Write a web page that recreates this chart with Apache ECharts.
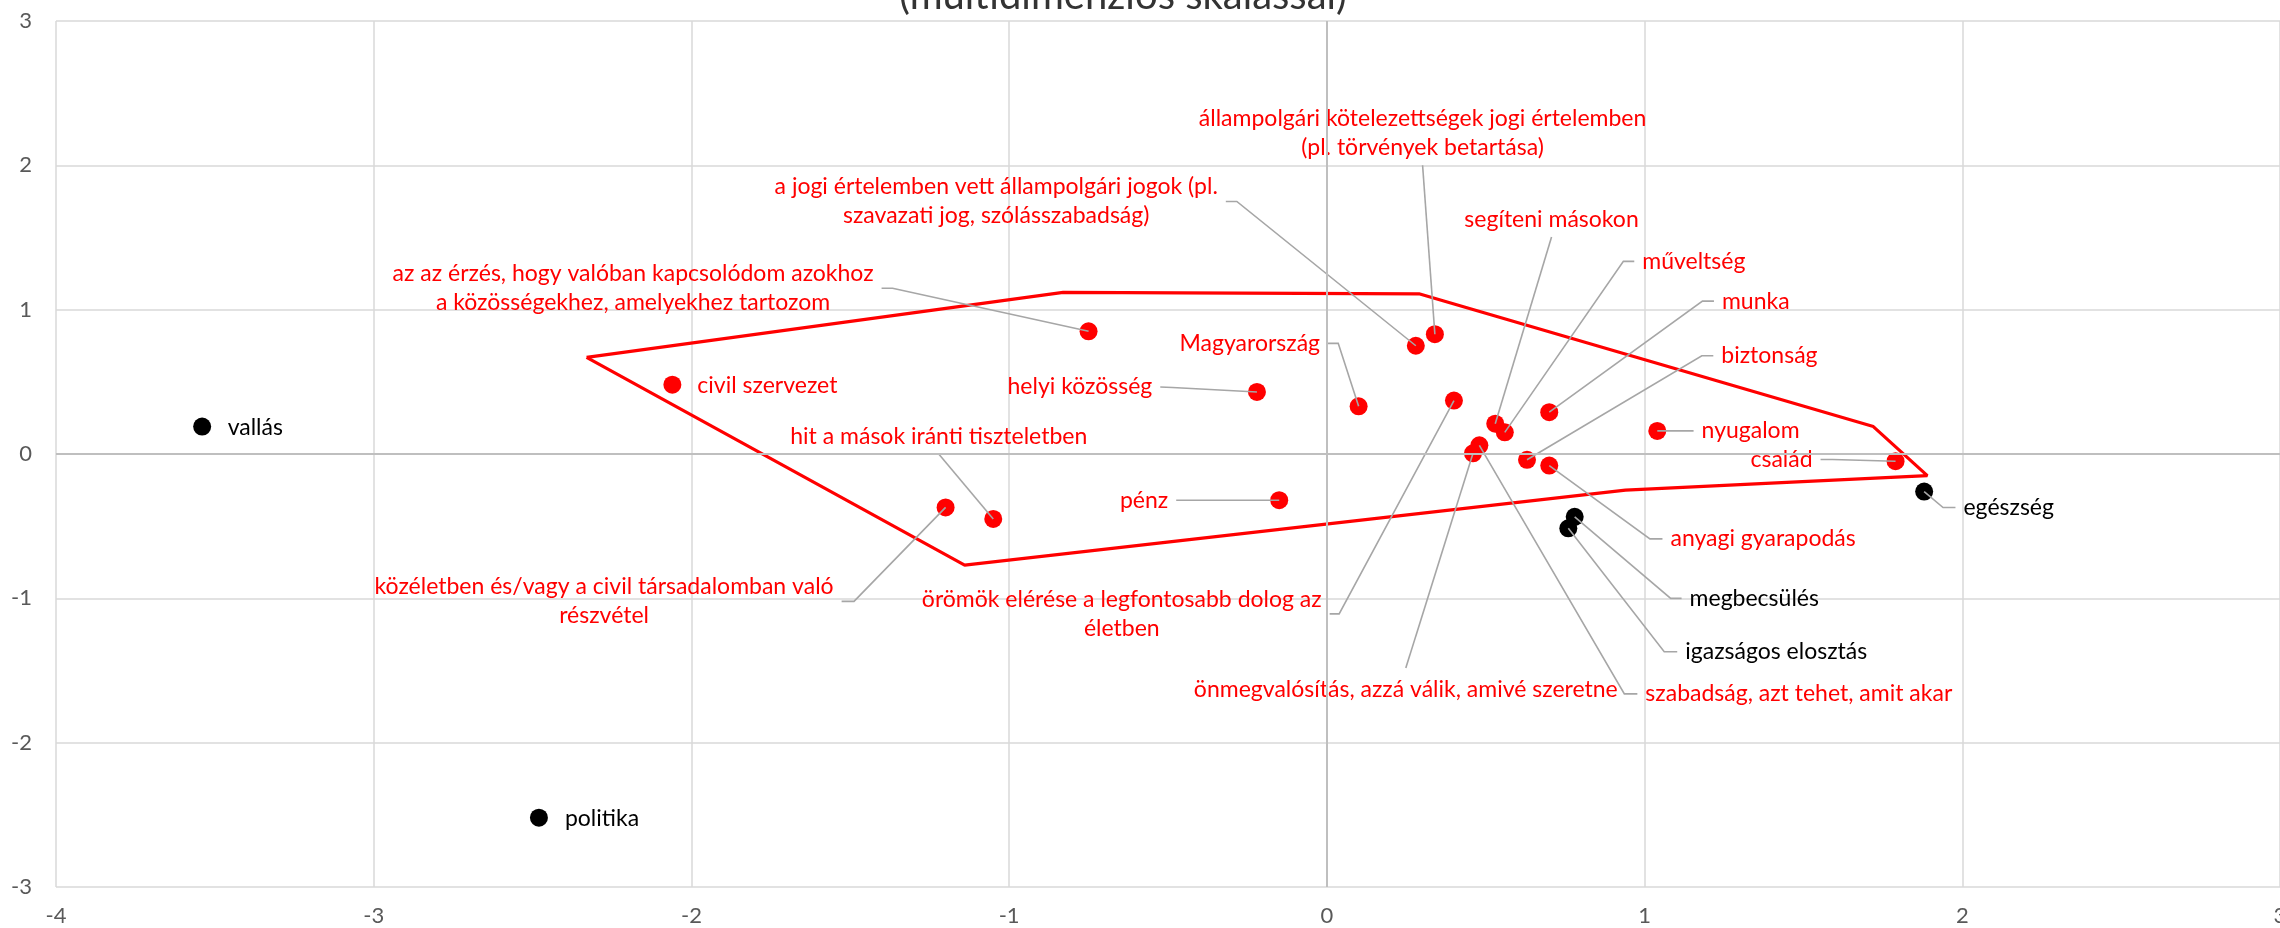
<!DOCTYPE html>
<html><head><meta charset="utf-8">
<script src="https://cdn.jsdelivr.net/npm/echarts@6/dist/echarts.min.js"></script>
<style>html,body{margin:0;padding:0;background:#fff}#c{width:2280px;height:928px}</style>
</head><body><div id="c"></div>
<script>
// ---------- data ----------
const titleText = '(multidimenziós skálással)';

const redNames = [
  'civil szervezet',
  'az az érzés, hogy valóban kapcsolódom azokhoz\na közösségekhez, amelyekhez tartozom',
  'hit a mások iránti tiszteletben',
  'közéletben és/vagy a civil társadalomban való\nrészvétel',
  'pénz',
  'helyi közösség',
  'Magyarország',
  'a jogi értelemben vett állampolgári jogok (pl.\nszavazati jog, szólásszabadság)',
  'állampolgári kötelezettségek jogi értelemben\n(pl. törvények betartása)',
  'örömök elérése a legfontosabb dolog az\néletben',
  'segíteni másokon',
  'műveltség',
  'munka',
  'szabadság, azt tehet, amit akar',
  'önmegvalósítás, azzá válik, amivé szeretne',
  'biztonság',
  'anyagi gyarapodás',
  'nyugalom',
  'család'
];
const redX = [-2.06, -0.75, -1.05, -1.20, -0.15, -0.22, 0.10, 0.28, 0.34, 0.40, 0.53, 0.56, 0.70, 0.48, 0.46, 0.63, 0.70, 1.04, 1.79];
const redY = [0.48, 0.85, -0.45, -0.37, -0.32, 0.43, 0.33, 0.75, 0.83, 0.37, 0.21, 0.15, 0.29, 0.06, 0.005, -0.04, -0.08, 0.16, -0.05];

const blackNames = ['vallás', 'politika', 'egészség', 'megbecsülés', 'igazságos elosztás'];
const blackX = [-3.54, -2.48, 1.88, 0.78, 0.76];
const blackY = [0.19, -2.52, -0.26, -0.435, -0.515];

const polyX = [-2.33, -0.83, 0.29, 1.72, 1.89, 0.94, -1.14, -2.33];
const polyY = [0.67, 1.12, 1.11, 0.19, -0.15, -0.25, -0.77, 0.67];

const xTickMin = -4, xTickMax = 3, yTickMin = -3, yTickMax = 3;

// ---------- label layout (pixel offsets from the point) ----------
// t: N = no leader, R = text right of stub, L = text left of stub, B = leader to bottom centre, T = leader to top centre
const redLayout = [
  {t:'N', s:[25, 1]},
  {t:'L', e:[-196, -43], s:[-207, -43]},
  {t:'B', s:[-54.5, -65]},
  {t:'L', e:[-91.6, 94], s:[-104, 94]},
  {t:'L', e:[-91, 0], s:[-103, 0]},
  {t:'L', e:[-84.5, -4.5], s:[-96.7, -5]},
  {t:'L', e:[-20.4, -63], s:[-30.6, -63]},
  {t:'L', e:[-179, -144.3], s:[-190, -144.3]},
  {t:'B', s:[-12.3, -169]},
  {t:'L', e:[-114.8, 213.3], s:[-124.3, 213.3]},
  {t:'B', s:[56.3, -186.6]},
  {t:'R', e:[118.6, -171], s:[129.5, -171]},
  {t:'R', e:[153.2, -111], s:[164.7, -111]},
  {t:'R', e:[145, 248.5], s:[158, 248.5]},
  {t:'T', s:[-67.2, 214.7]},
  {t:'R', e:[174.8, -104], s:[186.3, -104]},
  {t:'R', e:[100.7, 73.3], s:[113.2, 73.3]},
  {t:'R', e:[24, 0], s:[36.3, 0]},
  {t:'L', e:[-63, -1.7], s:[-75, -1.7]}
];
const blackLayout = [
  {t:'N', s:[25.5, 1.5]},
  {t:'N', s:[26, 1]},
  {t:'R', e:[18.9, 16], s:[31.3, 16]},
  {t:'R', e:[96, 81.6], s:[106.9, 81.6]},
  {t:'R', e:[95.9, 123.4], s:[108.9, 123.4]}
];

// ---------- styles ----------
const FF = 'Lato, "Liberation Sans", sans-serif';
const FS = 23;
const GAP = 8;

function makeLabelLayout(layout) {
  return function (p) {
    const L = layout[p.dataIndex];
    const cx = p.rect.x + p.rect.width / 2;
    const cy = p.rect.y + p.rect.height / 2;
    const w = p.labelRect.width;
    if (L.t === 'N') return {x: cx + L.s[0], y: cy + L.s[1], align: 'left', verticalAlign: 'middle'};
    if (L.t === 'R') return {x: cx + L.s[0] + GAP, y: cy + L.s[1], align: 'left', verticalAlign: 'middle'};
    if (L.t === 'L') return {x: cx + L.s[0] - GAP - w / 2, y: cy + L.s[1], align: 'center', verticalAlign: 'middle'};
    if (L.t === 'B') return {x: cx + L.s[0], y: cy + L.s[1] - 3, align: 'center', verticalAlign: 'bottom'};
    return {x: cx + L.s[0], y: cy + L.s[1] + 7, align: 'center', verticalAlign: 'top'};
  };
}

function pointSeries(names, xs, ys, layout, color) {
  return {
    type: 'scatter', z: 3, symbol: 'circle', symbolSize: 18, silent: true,
    itemStyle: {color: color, opacity: 1},
    data: names.map((n, i) => ({name: n, value: [xs[i], ys[i]]})),
    label: {show: true, formatter: '{b}', color: color, fontSize: FS, fontFamily: FF, lineHeight: 29},
    labelLayout: makeLabelLayout(layout)
  };
}

function leaderSeries(xs, ys, layout) {
  return {
    type: 'custom', coordinateSystem: 'cartesian2d', silent: true, z: 4, clip: false,
    data: xs.map((x, i) => [x, ys[i], i]),
    encode: {x: 0, y: 1},
    renderItem: function (params, api) {
      const L = layout[api.value(2)];
      if (L.t === 'N') return {type: 'group', children: []};
      const p = api.coord([api.value(0), api.value(1)]);
      const pts = [p];
      if (L.e) pts.push([p[0] + L.e[0], p[1] + L.e[1]]);
      pts.push([p[0] + L.s[0], p[1] + L.s[1]]);
      return {type: 'polyline', shape: {points: pts}, style: {stroke: '#a6a6a6', lineWidth: 1.6, fill: null}};
    }
  };
}

const chart = echarts.init(document.getElementById('c'), null, {renderer: 'canvas'});
chart.setOption({
  animation: false,
  backgroundColor: '#ffffff',
  grid: {left: 56, right: 0, top: 21, bottom: 41, containLabel: false, outerBoundsMode: 'none'},
  graphic: [{
    type: 'text', x: 1123, y: -4, z: 10,
    style: {text: titleText, fontSize: 40, fontFamily: FF, fill: '#333333', align: 'center', verticalAlign: 'middle'}
  }],
  xAxis: {
    type: 'value', min: xTickMin, max: xTickMax, interval: 1,
    axisLine: {show: false, onZero: false}, axisTick: {show: false},
    axisLabel: {color: '#595959', fontSize: 22, fontFamily: FF, margin: 18, showMinLabel: true, showMaxLabel: true},
    splitLine: {show: true, lineStyle: {color: '#d9d9d9', width: 1.5}}
  },
  yAxis: {
    type: 'value', min: yTickMin, max: yTickMax, interval: 1,
    axisLine: {show: false, onZero: false}, axisTick: {show: false},
    axisLabel: {color: '#595959', fontSize: 22, fontFamily: FF, margin: 24, showMinLabel: true, showMaxLabel: true},
    splitLine: {show: true, lineStyle: {color: '#d9d9d9', width: 1.5}}
  },
  series: [
    {
      type: 'line', z: 2, silent: true, symbol: 'none', showSymbol: false,
      data: polyX.map((x, i) => [x, polyY[i]]),
      lineStyle: {color: '#ff0000', width: 3.2},
      markLine: {
        silent: true, symbol: ['none', 'none'], label: {show: false},
        lineStyle: {color: '#bfbfbf', width: 2, type: 'solid'},
        emphasis: {disabled: true},
        data: [{yAxis: 0}, {xAxis: 0}]
      }
    },
    pointSeries(redNames, redX, redY, redLayout, '#ff0000'),
    pointSeries(blackNames, blackX, blackY, blackLayout, '#000000'),
    leaderSeries(redX, redY, redLayout),
    leaderSeries(blackX, blackY, blackLayout)
  ]
});
</script></body></html>
